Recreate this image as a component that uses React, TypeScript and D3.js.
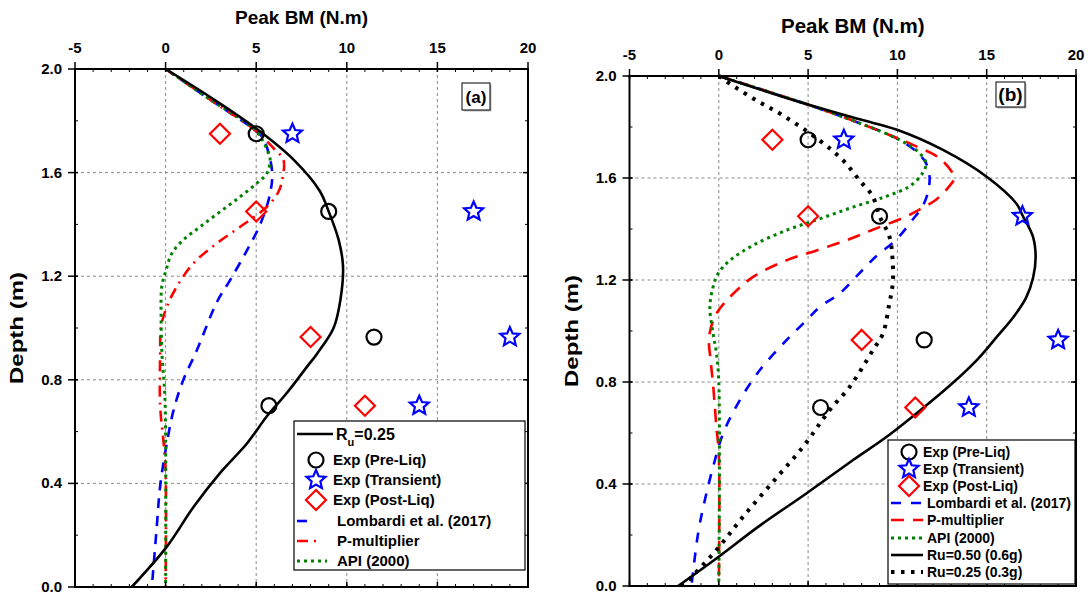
import React from 'react';
import * as d3 from 'd3';

type P = [number, number];

// ---------- data ----------
const bmTicks = [-5, 0, 5, 10, 15, 20];
const depthTicks = [0, 0.4, 0.8, 1.2, 1.6, 2.0];
const gridBM = [0, 5, 10, 15];
const gridDepth = [0.4, 0.8, 1.2, 1.6];

const expPreLiq: P[] = [[5, 1.75], [9, 1.45], [11.5, 0.965], [5.7, 0.70]];
const expTransient: P[] = [[7, 1.75], [17, 1.45], [19, 0.965], [14, 0.70]];
const expPostLiq: P[] = [[3, 1.75], [5, 1.45], [8, 0.965], [11, 0.70]];

// panel (a)
const aRu025: P[] = [[0, 2], [2.5, 1.89], [5, 1.77], [7.06, 1.65], [8.5, 1.53], [9.0, 1.45], [9.55, 1.34], [9.79, 1.24], [9.65, 1.11], [9.27, 1.0], [8.35, 0.9], [7.8, 0.85], [6.7, 0.75], [5.6, 0.66], [4.5, 0.555], [3.0, 0.44], [1.55, 0.31], [0.07, 0.156], [-1.87, 0]];
const aLombardi: P[] = [[0, 2], [2.5, 1.88], [5, 1.76], [5.4, 1.73], [5.87, 1.61], [5.77, 1.52], [5.22, 1.40], [4.49, 1.30], [3.56, 1.185], [2.83, 1.1], [1.7, 0.91], [0.98, 0.8], [0.43, 0.68], [0.03, 0.54], [-0.3, 0.39], [-0.49, 0.23], [-0.76, 0]];
const aPMult: P[] = [[0, 2], [2.5, 1.88], [5, 1.76], [5.96, 1.694], [6.5, 1.65], [6.47, 1.584], [6.23, 1.526], [5.59, 1.468], [4.12, 1.391], [2.83, 1.327], [1.54, 1.25], [0.62, 1.16], [0.07, 1.082], [-0.25, 1.005], [-0.3, 0.9], [-0.3, 0.7], [-0.1, 0.55], [0, 0.45], [0, 0]];
const aAPI: P[] = [[0, 2], [2.5, 1.88], [5, 1.76], [5.68, 1.674], [5.77, 1.649], [5.59, 1.597], [5.04, 1.559], [4.12, 1.507], [3.01, 1.449], [1.91, 1.391], [0.98, 1.34], [0.34, 1.288], [0.03, 1.224], [-0.21, 1.16], [-0.25, 1.05], [-0.2, 0.9], [-0.05, 0.75], [0, 0.6], [0, 0]];

// panel (b)
const bLombardi: P[] = [[0, 2], [4.9, 1.89], [7.89, 1.815], [9.74, 1.763], [11.06, 1.704], [11.6, 1.658], [11.8, 1.606], [11.7, 1.541], [11.41, 1.489], [10.86, 1.437], [9.93, 1.358], [8.81, 1.293], [7.88, 1.227], [6.77, 1.147], [5.65, 1.094], [4.91, 1.042], [3.79, 0.964], [2.29, 0.846], [1.18, 0.729], [0.24, 0.598], [-0.32, 0.467], [-0.78, 0.337], [-1.16, 0.206], [-1.53, 0]];
const bPMult: P[] = [[0, 2], [4.9, 1.89], [7.89, 1.815], [11.06, 1.724], [12.35, 1.678], [13.1, 1.619], [13.2, 1.6], [12.9, 1.567], [12.16, 1.515], [11.23, 1.476], [10.3, 1.443], [8.62, 1.397], [7.15, 1.356], [5.47, 1.316], [3.79, 1.277], [1.92, 1.212], [0.62, 1.133], [-0.13, 1.068], [-0.54, 0.98], [-0.45, 0.88], [-0.32, 0.79], [-0.13, 0.62], [0, 0.52], [0, 0]];
const bAPI: P[] = [[0, 2], [4.9, 1.89], [7.89, 1.815], [10.11, 1.75], [11.23, 1.698], [11.6, 1.658], [11.41, 1.619], [10.67, 1.567], [9.37, 1.528], [7.52, 1.486], [5.65, 1.44], [3.79, 1.395], [1.92, 1.336], [0.62, 1.277], [-0.04, 1.225], [-0.32, 1.173], [-0.5, 1.094], [-0.32, 0.99], [-0.13, 0.912], [0, 0.8], [0, 0]];
const bRu050: P[] = [[0, 2], [4.9, 1.89], [7.89, 1.83], [9.94, 1.79], [12.55, 1.71], [14.98, 1.606], [16.66, 1.5], [17.03, 1.45], [17.59, 1.37], [17.74, 1.29], [17.6, 1.21], [17.2, 1.13], [16.5, 1.055], [15.6, 0.98], [14.5, 0.89], [13.0, 0.79], [11.3, 0.69], [9.4, 0.585], [7.52, 0.494], [4.9, 0.363], [2.2, 0.232], [-0.1, 0.11], [-2.28, 0]];
const bRu025: P[] = [[0, 2], [0.62, 1.97], [2.11, 1.904], [3.6, 1.845], [5.65, 1.747], [6.96, 1.669], [7.89, 1.59], [8.62, 1.528], [9.0, 1.45], [9.55, 1.371], [9.74, 1.267], [9.74, 1.188], [9.52, 1.097], [9.19, 0.99], [8.63, 0.925], [7.33, 0.781], [6.21, 0.69], [4.72, 0.546], [3.04, 0.409], [1.36, 0.272], [-0.13, 0.141], [-2.0, 0]];

const legendA = ['Exp (Pre-Liq)', 'Exp (Transient)', 'Exp (Post-Liq)', 'Lombardi et al. (2017)', 'P-multiplier', 'API (2000)'];
const legendB = ['Exp (Pre-Liq)', 'Exp (Transient)', 'Exp (Post-Liq)', 'Lombardi et al. (2017)', 'P-multiplier', 'API (2000)', 'Ru=0.50 (0.6g)', 'Ru=0.25 (0.3g)'];

// ---------- styles ----------
type LineStyle = { color: string; width: number; dash?: string; cap?: string };
const FONT = 'Arial, "Liberation Sans", Helvetica, sans-serif';

function starPath(cx: number, cy: number, R: number, r: number) {
  const pts: string[] = [];
  for (let i = 0; i < 10; i++) {
    const rad = i % 2 === 0 ? R : r;
    const a = -Math.PI / 2 + (i * Math.PI) / 5;
    pts.push(`${cx + rad * Math.cos(a)},${cy + rad * Math.sin(a)}`);
  }
  return 'M' + pts.join('L') + 'Z';
}

function Marker({ kind, cx, cy }: { kind: string; cx: number; cy: number }) {
  if (kind === 'circle') return <circle cx={cx} cy={cy} r={7.5} fill="none" stroke="#000" strokeWidth={2.2} />;
  if (kind === 'star') return <path d={starPath(cx, cy, 10, 4.6)} fill="none" stroke="#0000ff" strokeWidth={2.2} strokeLinejoin="miter" />;
  return <path d={`M${cx},${cy - 10}L${cx + 10},${cy}L${cx},${cy + 10}L${cx - 10},${cy}Z`} fill="none" stroke="#ff0000" strokeWidth={2.2} />;
}

type Series = { data: P[]; style: LineStyle };
type Geo = { left: number; right: number; top: number; bottom: number };

function Panel(props: {
  g: Geo;
  series: Series[];
  title: string;
  titleSize: number;
  titleY: number;
  tickY: number;
  label: string;
  labelBox: [number, number, number, number];
  labelSize: number;
  children?: React.ReactNode;
}) {
  const { g } = props;
  const x = d3.scaleLinear().domain([-5, 20]).range([g.left, g.right]);
  const y = d3.scaleLinear().domain([0, 2]).range([g.bottom, g.top]);
  const line = d3
    .line<P>()
    .x((d) => x(d[0]))
    .y((d) => y(d[1]))
    .curve(d3.curveCatmullRom.alpha(0.5));
  const minorX = d3.range(-5, 20.001, 1);
  const minorY = d3.range(0, 2.001, 0.2);
  const [bx, by, bw, bh] = props.labelBox;
  return (
    <g>
      {gridBM.map((v) => (
        <line key={'gx' + v} x1={x(v)} x2={x(v)} y1={g.top} y2={g.bottom} stroke="#8a8a8a" strokeWidth={1} strokeDasharray="3,3" />
      ))}
      {gridDepth.map((v) => (
        <line key={'gy' + v} x1={g.left} x2={g.right} y1={y(v)} y2={y(v)} stroke="#8a8a8a" strokeWidth={1} strokeDasharray="3,3" />
      ))}
      {props.series.map((s, i) => (
        <path
          key={'s' + i}
          d={line(s.data) || ''}
          fill="none"
          stroke={s.style.color}
          strokeWidth={s.style.width}
          strokeDasharray={s.style.dash}
          strokeLinecap={(s.style.cap as any) || 'butt'}
        />
      ))}
      {expPreLiq.map((d, i) => <Marker key={'c' + i} kind="circle" cx={x(d[0])} cy={y(d[1])} />)}
      {expTransient.map((d, i) => <Marker key={'t' + i} kind="star" cx={x(d[0])} cy={y(d[1])} />)}
      {expPostLiq.map((d, i) => <Marker key={'p' + i} kind="diamond" cx={x(d[0])} cy={y(d[1])} />)}
      <rect x={g.left} y={g.top} width={g.right - g.left} height={g.bottom - g.top} fill="none" stroke="#000" strokeWidth={2} />
      {minorX.map((v) => (
        <g key={'mx' + v}>
          <line x1={x(v)} x2={x(v)} y1={g.top} y2={g.top + 3} stroke="#000" strokeWidth={1} />
          <line x1={x(v)} x2={x(v)} y1={g.bottom} y2={g.bottom - 3} stroke="#000" strokeWidth={1} />
        </g>
      ))}
      {minorY.map((v) => (
        <g key={'my' + v}>
          <line x1={g.left} x2={g.left + 3} y1={y(v)} y2={y(v)} stroke="#000" strokeWidth={1} />
          <line x1={g.right} x2={g.right - 3} y1={y(v)} y2={y(v)} stroke="#000" strokeWidth={1} />
        </g>
      ))}
      {bmTicks.map((v) => (
        <g key={'tx' + v}>
          <line x1={x(v)} x2={x(v)} y1={g.top - 7} y2={g.top + 3} stroke="#000" strokeWidth={1.5} />
          <line x1={x(v)} x2={x(v)} y1={g.bottom} y2={g.bottom - 5} stroke="#000" strokeWidth={1.5} />
          <text x={x(v)} y={props.tickY} textAnchor="middle" fontFamily={FONT} fontWeight="bold" fontSize={15}>
            {v}
          </text>
        </g>
      ))}
      {depthTicks.map((v) => (
        <g key={'ty' + v}>
          <line x1={g.left - 7} x2={g.left + 3} y1={y(v)} y2={y(v)} stroke="#000" strokeWidth={1.5} />
          <line x1={g.right} x2={g.right - 5} y1={y(v)} y2={y(v)} stroke="#000" strokeWidth={1.5} />
          <text x={g.left - 13} y={y(v) + 5} textAnchor="end" fontFamily={FONT} fontWeight="bold" fontSize={15}>
            {v.toFixed(1)}
          </text>
        </g>
      ))}
      <text x={(g.left + g.right) / 2} y={props.titleY} textAnchor="middle" fontFamily={FONT} fontWeight="bold" fontSize={props.titleSize}>
        {props.title}
      </text>
      <text
        transform={`translate(${g.left - 52},${(g.top + g.bottom) / 2}) rotate(-90)`}
        textAnchor="middle"
        fontFamily={FONT}
        fontWeight="bold"
        fontSize={19}
        textLength={112}
        lengthAdjust="spacingAndGlyphs"
      >
        Depth (m)
      </text>
      <rect x={bx + 1.5} y={by + 1.5} width={bw} height={bh} fill="#bbb" />
      <rect x={bx} y={by} width={bw} height={bh} fill="#fff" stroke="#000" strokeWidth={1} />
      <text x={bx + bw / 2} y={by + bh / 2 + props.labelSize * 0.36} textAnchor="middle" fontFamily={FONT} fontWeight="bold" fontSize={props.labelSize}>
        {props.label}
      </text>
      {props.children}
    </g>
  );
}

const stA = {
  ru: { color: '#000', width: 2.6 } as LineStyle,
  lomb: { color: '#0000ff', width: 2.6, dash: '10,8' } as LineStyle,
  pm: { color: '#ff0000', width: 2.6, dash: '11,6,2,6' } as LineStyle,
  api: { color: '#008000', width: 3, dash: '3,4' } as LineStyle,
};
const stB = {
  lomb: { color: '#0000ff', width: 2.6, dash: '10,10' } as LineStyle,
  pm: { color: '#ff0000', width: 2.6, dash: '13,9' } as LineStyle,
  api: { color: '#008000', width: 3, dash: '3,4' } as LineStyle,
  ru50: { color: '#000', width: 2.6 } as LineStyle,
  ru25: { color: '#000', width: 4, dash: '3.5,6.5' } as LineStyle,
};

function LegendLine({ x1, x2, y, s }: { x1: number; x2: number; y: number; s: LineStyle }) {
  return <line x1={x1} x2={x2} y1={y} y2={y} stroke={s.color} strokeWidth={s.width} strokeDasharray={s.dash} />;
}

export default function App() {
  const gA: Geo = { left: 75, right: 528, top: 69, bottom: 587 };
  const gB: Geo = { left: 629.5, right: 1076, top: 76, bottom: 586 };

  const rowsA = [460, 480, 500, 521, 541, 561];
  const legA = (
    <g fontFamily={FONT} fontWeight="bold">
      <rect x={294} y={421} width={231} height={149} fill="#fff" stroke="#000" strokeWidth={1.2} />
      <LegendLine x1={297} x2={333} y={434} s={stA.ru} />
      <text x={336} y={440} fontSize={16}>
        R<tspan dy={6} fontSize={11}>u</tspan>
        <tspan dy={-6}>=0.25</tspan>
      </text>
      {['circle', 'star', 'diamond'].map((k, i) => (
        <g key={k}>
          <Marker kind={k} cx={316} cy={rowsA[i]} />
          <text x={333} y={rowsA[i] + 5} fontSize={15}>{legendA[i]}</text>
        </g>
      ))}
      {[stA.lomb, stA.pm, stA.api].map((s, i) => (
        <g key={'la' + i}>
          <LegendLine x1={297} x2={i === 0 ? 307 : i === 1 ? 322 : 327} y={rowsA[i + 3]} s={s} />
          <text x={337} y={rowsA[i + 3] + 5} fontSize={15}>{legendA[i + 3]}</text>
        </g>
      ))}
    </g>
  );

  const rowsB = [452, 469, 486, 503, 520, 538, 555, 572];
  const lineStylesB = [stB.lomb, stB.pm, stB.api, stB.ru50, stB.ru25];
  const legB = (
    <g fontFamily={FONT} fontWeight="bold">
      <rect x={888} y={440} width={187} height={144} fill="#fff" stroke="#000" strokeWidth={1.2} />
      {['circle', 'star', 'diamond'].map((k, i) => (
        <g key={k}>
          <Marker kind={k} cx={909} cy={rowsB[i]} />
          <text x={923} y={rowsB[i] + 5} fontSize={14}>{legendB[i]}</text>
        </g>
      ))}
      {lineStylesB.map((s, i) => (
        <g key={'lb' + i}>
          <LegendLine x1={891} x2={923} y={rowsB[i + 3]} s={s} />
          <text x={927} y={rowsB[i + 3] + 5} fontSize={14}>{legendB[i + 3]}</text>
        </g>
      ))}
    </g>
  );

  return (
    <svg width={1090} height={594} style={{ position: 'absolute', left: 0, top: 0, background: '#fff' }}>
      <rect x={0} y={0} width={1090} height={594} fill="#fff" />
      <Panel
        g={gA}
        series={[
          { data: aLombardi, style: stA.lomb },
          { data: aPMult, style: stA.pm },
          { data: aAPI, style: stA.api },
          { data: aRu025, style: stA.ru },
        ]}
        title="Peak BM (N.m)"
        titleSize={19}
        titleY={24}
        tickY={53}
        label="(a)"
        labelBox={[462, 83, 28, 27]}
        labelSize={17}
      >
        {legA}
      </Panel>
      <Panel
        g={gB}
        series={[
          { data: bLombardi, style: stB.lomb },
          { data: bPMult, style: stB.pm },
          { data: bAPI, style: stB.api },
          { data: bRu050, style: stB.ru50 },
          { data: bRu025, style: stB.ru25 },
        ]}
        title="Peak BM (N.m)"
        titleSize={20.5}
        titleY={33}
        tickY={60}
        label="(b)"
        labelBox={[996, 82, 29, 25]}
        labelSize={19}
      >
        {legB}
      </Panel>
    </svg>
  );
}
